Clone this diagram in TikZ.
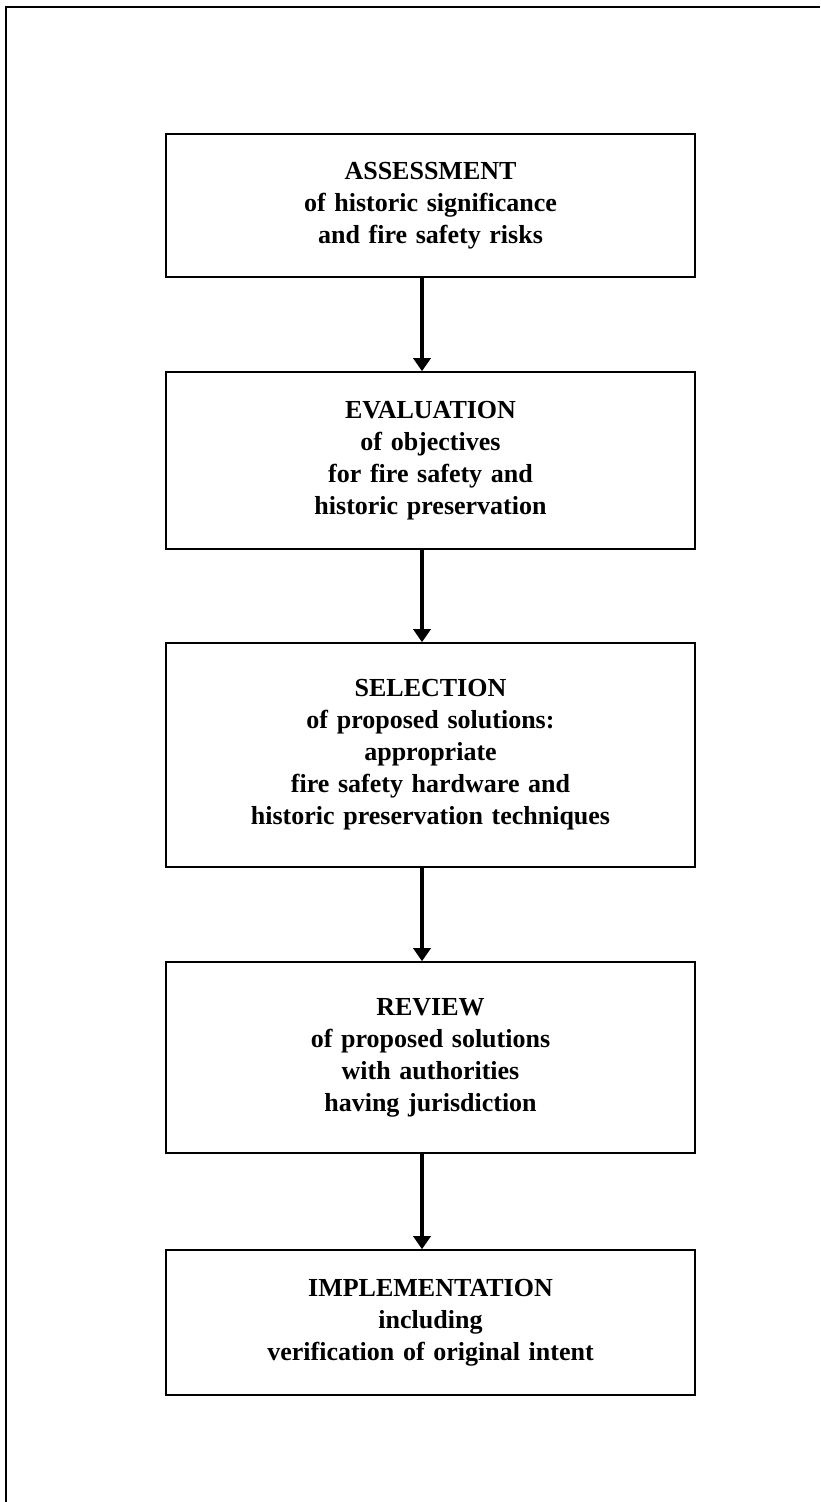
\documentclass[tikz,border=0pt]{standalone}
\usepackage{fontspec}
\setmainfont{Liberation Serif}
\usetikzlibrary{arrows.meta}

\tikzset{stepbox/.style={draw,line width=0.8pt,text width=250pt,minimum width=264.5pt,align=center,inner sep=0pt,font=\bfseries\fontsize{13}{16}\selectfont},
	flow/.style={line width=2pt,-{Triangle[width=8.5pt,length=6.5pt]}}}
\newcommand{\liftup}[1]{\par\vspace*{#1}}

\begin{document}
\begin{tikzpicture}[x=0.5pt,y=-0.5pt]
	\useasboundingbox (0,0) rectangle (820,1502);
	% open frame, top and left only
	\draw[line width=1.2pt] (820,7) -- (6,7) -- (6,1502);
	\node[stepbox,minimum height=71.5pt] (assess) at (430.5,205.5) {ASSESSMENT\\of historic significance\\and fire safety risks\liftup{8pt}};
	\node[stepbox,minimum height=88.5pt] (eval) at (430.5,460.5) {EVALUATION\\of objectives\\for fire safety and\\historic preservation\liftup{16pt}};
	\node[stepbox,minimum height=112pt] (select) at (430.5,755) {SELECTION\\of proposed solutions:\\appropriate\\fire safety hardware and\\historic preservation techniques\liftup{15pt}};
	\node[stepbox,minimum height=95.5pt] (review) at (430.5,1057.5) {REVIEW\\of proposed solutions\\with authorities\\having jurisdiction\liftup{12pt}};
	\node[stepbox,minimum height=72.5pt] (impl) at (430.5,1322.5) {IMPLEMENTATION\\including\\verification of original intent\liftup{8pt}};
	\draw[flow] ([xshift=-4.25pt]assess.south) -- ([xshift=-4.25pt]eval.north);
	\draw[flow] ([xshift=-4.25pt]eval.south) -- ([xshift=-4.25pt]select.north);
	\draw[flow] ([xshift=-4.25pt]select.south) -- ([xshift=-4.25pt]review.north);
	\draw[flow] ([xshift=-4.25pt]review.south) -- ([xshift=-4.25pt]impl.north);
\end{tikzpicture}
\end{document}
